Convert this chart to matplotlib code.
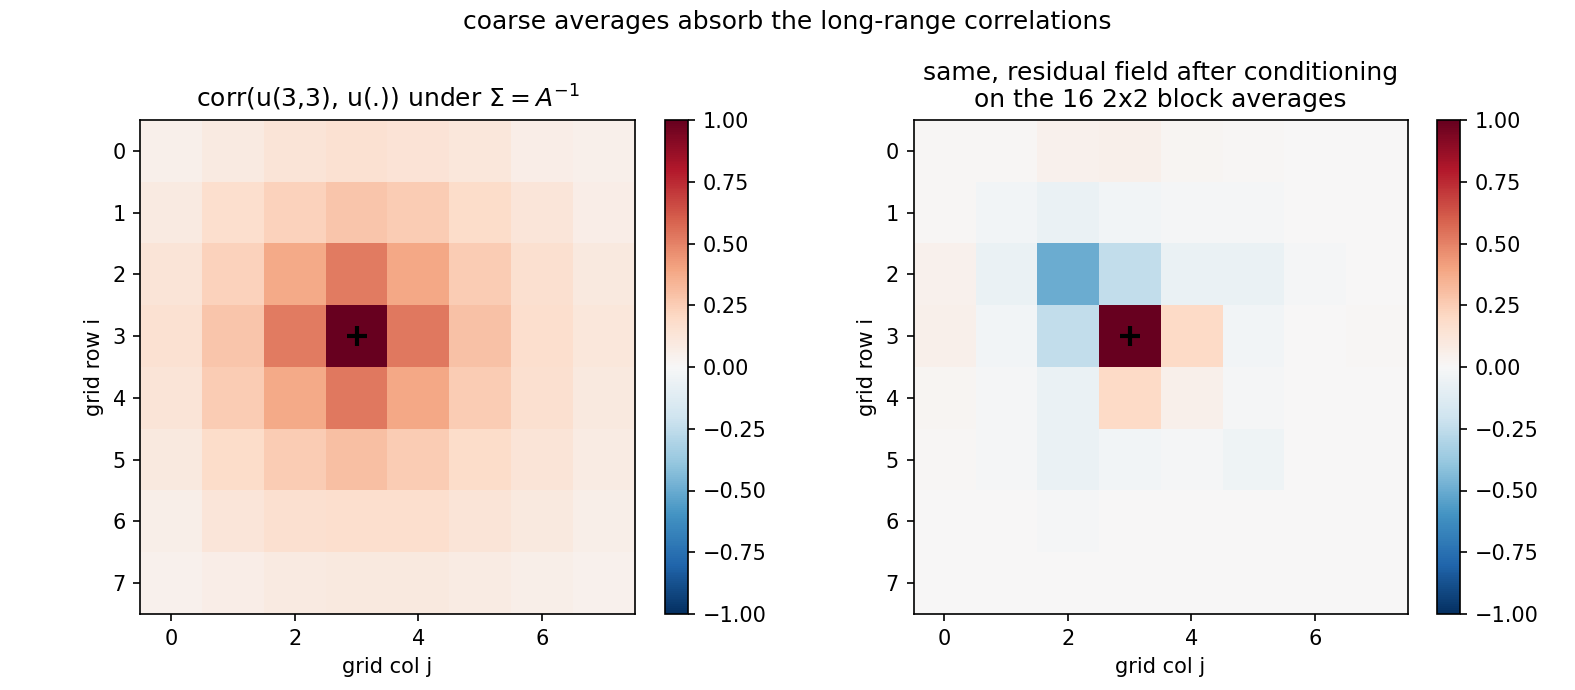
import numpy as np
import matplotlib
matplotlib.use("Agg")
import matplotlib.pyplot as plt

# correlation of u(3,3) with every grid cell, prior Sigma = A^-1
corr_prior = [
    [0.05, 0.09, 0.13, 0.15, 0.14, 0.11, 0.07, 0.05],
    [0.09, 0.17, 0.23, 0.28, 0.25, 0.18, 0.12, 0.07],
    [0.13, 0.23, 0.38, 0.52, 0.39, 0.25, 0.16, 0.10],
    [0.15, 0.28, 0.52, 1.00, 0.53, 0.29, 0.17, 0.11],
    [0.13, 0.25, 0.38, 0.53, 0.39, 0.25, 0.16, 0.10],
    [0.10, 0.18, 0.25, 0.30, 0.25, 0.18, 0.13, 0.08],
    [0.06, 0.12, 0.16, 0.17, 0.17, 0.13, 0.10, 0.06],
    [0.04, 0.07, 0.09, 0.10, 0.10, 0.08, 0.06, 0.04],
]

# same after conditioning on the 16 block averages
corr_resid = [
    [0.01, 0.01, 0.04, 0.05, 0.02, 0.01, 0.00, 0.00],
    [0.01, -0.03, -0.07, -0.03, -0.01, -0.01, 0.00, 0.00],
    [0.04, -0.07, -0.50, -0.25, -0.07, -0.07, -0.01, 0.00],
    [0.05, -0.03, -0.25, 1.00, 0.20, -0.03, 0.00, 0.01],
    [0.02, -0.01, -0.07, 0.20, 0.05, -0.01, 0.00, 0.00],
    [0.01, -0.01, -0.07, -0.03, -0.01, -0.04, 0.00, 0.00],
    [0.00, 0.00, -0.01, 0.00, 0.00, 0.00, 0.00, 0.00],
    [0.00, 0.00, 0.00, 0.00, 0.00, 0.00, 0.00, 0.00],
]

target = (3, 3)
titles = [r"corr(u(3,3), u(.)) under $\Sigma = A^{-1}$",
          "same, residual field after conditioning\non the 16 2x2 block averages"]

W, H = 1575, 690
DPI = 150
fig = plt.figure(figsize=(W / DPI, H / DPI), dpi=DPI)

ax_pos = [(140, 120, 495, 494), (913, 120, 495, 494)]
cb_pos = [(665, 120, 23, 494), (1437, 120, 23, 494)]

for data, title, (x, y, w, h), (cx, cy, cw, ch) in zip(
        [corr_prior, corr_resid], titles, ax_pos, cb_pos):
    ax = fig.add_axes([x / W, 1 - (y + h) / H, w / W, h / H])
    cax = fig.add_axes([cx / W, 1 - (cy + ch) / H, cw / W, ch / H])
    im = ax.imshow(np.array(data), cmap="RdBu_r", vmin=-1, vmax=1)
    ax.plot(target[1], target[0], "k+", markersize=10, markeredgewidth=2)
    ax.set_xticks([0, 2, 4, 6])
    ax.set_yticks(range(8))
    ax.set_title(title)
    ax.set_xlabel("grid col j")
    ax.set_ylabel("grid row i")
    fig.colorbar(im, cax=cax)

fig.suptitle("coarse averages absorb the long-range correlations", y=0.985)

fig.savefig("out.png", dpi=DPI)
